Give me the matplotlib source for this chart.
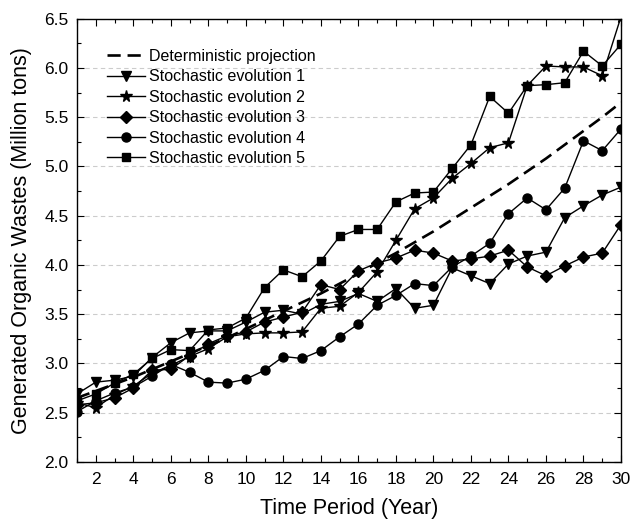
import numpy as np
import matplotlib
matplotlib.use('Agg')
import matplotlib.pyplot as plt
from matplotlib.ticker import MultipleLocator, FormatStrFormatter

plt.rcParams['font.family'] = ['Liberation Sans', 'DejaVu Sans']

years = np.arange(1, 31)

# values
deterministic = [2.65, 2.72, 2.79, 2.86, 2.94, 3.02, 3.10, 3.18, 3.26, 3.35,
                 3.44, 3.53, 3.62, 3.71, 3.81, 3.91, 4.02, 4.12, 4.23, 4.34,
                 4.46, 4.58, 4.70, 4.82, 4.95, 5.08, 5.22, 5.36, 5.50, 5.65]
evolution_1 = [2.69, 2.81, 2.83, 2.87, 3.06, 3.21, 3.31, 3.33, 3.33, 3.42,
               3.52, 3.54, 3.50, 3.60, 3.63, 3.71, 3.63, 3.76, 3.56, 3.59,
               3.97, 3.89, 3.81, 4.01, 4.09, 4.13, 4.48, 4.60, 4.71, 4.79]
evolution_2 = [2.60, 2.55, 2.68, 2.77, 2.90, 2.98, 3.07, 3.15, 3.27, 3.30,
               3.31, 3.31, 3.32, 3.56, 3.58, 3.72, 3.93, 4.25, 4.57, 4.68,
               4.88, 5.03, 5.19, 5.24, 5.82, 6.02, 6.01, 6.01, 5.92, 6.52]
evolution_3 = [2.58, 2.60, 2.65, 2.75, 2.93, 2.94, 3.08, 3.20, 3.28, 3.32,
               3.42, 3.47, 3.52, 3.80, 3.75, 3.94, 4.02, 4.07, 4.15, 4.12,
               4.04, 4.06, 4.09, 4.15, 3.98, 3.89, 3.99, 4.08, 4.12, 4.41]
evolution_4 = [2.51, 2.62, 2.70, 2.76, 2.87, 2.99, 2.91, 2.81, 2.80, 2.84,
               2.93, 3.07, 3.05, 3.13, 3.27, 3.40, 3.59, 3.69, 3.81, 3.79,
               3.98, 4.09, 4.22, 4.52, 4.68, 4.56, 4.78, 5.26, 5.16, 5.38]
evolution_5 = [2.62, 2.69, 2.80, 2.89, 3.05, 3.14, 3.13, 3.34, 3.36, 3.46,
               3.77, 3.95, 3.88, 4.04, 4.29, 4.36, 4.36, 4.64, 4.73, 4.74,
               4.98, 5.22, 5.71, 5.54, 5.82, 5.83, 5.85, 6.17, 6.02, 6.24]

stochastic = [evolution_1, evolution_2, evolution_3, evolution_4, evolution_5]
markers = ['v', '*', 'D', 'o', 's']
marker_sizes = [7, 8.5, 6, 6.5, 6]

fig = plt.figure(figsize=(6.34, 5.19), dpi=100)
ax = fig.add_axes([0.1215, 0.110, 0.858, 0.854])

ax.plot(years, deterministic, color='black', linewidth=1.9,
        linestyle=(0, (5, 2.6)), label='Deterministic projection', zorder=3)
for i, (vals, m, ms) in enumerate(zip(stochastic, markers, marker_sizes)):
    ax.plot(years, vals, color='black', linewidth=1.0, marker=m,
            markersize=ms, markerfacecolor='black', markeredgecolor='black',
            label=f'Stochastic evolution {i + 1}', zorder=4)

ax.set_xlim(1, 30)
ax.set_ylim(2.0, 6.5)
ax.xaxis.set_minor_locator(MultipleLocator(1))
ax.set_xticks(np.arange(2, 31, 2))
ax.yaxis.set_major_locator(MultipleLocator(0.5))
ax.yaxis.set_minor_locator(MultipleLocator(0.25))
ax.yaxis.set_major_formatter(FormatStrFormatter('%.1f'))

ax.tick_params(which='both', direction='in', top=True, right=True,
               labelsize=12.5, colors='black')
ax.tick_params(which='major', length=5, width=0.8)
ax.tick_params(which='minor', length=3, width=0.8)
ax.tick_params(axis='x', pad=7)
ax.tick_params(axis='y', pad=6)

ax.grid(axis='y', which='major', linestyle=(0, (4, 3)), color='#cccccc',
        linewidth=0.8)
ax.set_axisbelow(True)

ax.set_xlabel('Time Period (Year)', fontsize=15.5, labelpad=8)
ax.set_ylabel('Generated Organic Wastes (Million tons)', fontsize=15.5,
              labelpad=9)

for sp in ax.spines.values():
    sp.set_linewidth(1.0)

ax.legend(loc='upper left', bbox_to_anchor=(0.055, 0.932), frameon=False,
          fontsize=11.5, handlelength=2.4, handletextpad=0.25,
          labelspacing=0.34, borderaxespad=0, borderpad=0)

fig.savefig('out.png', dpi=100)
